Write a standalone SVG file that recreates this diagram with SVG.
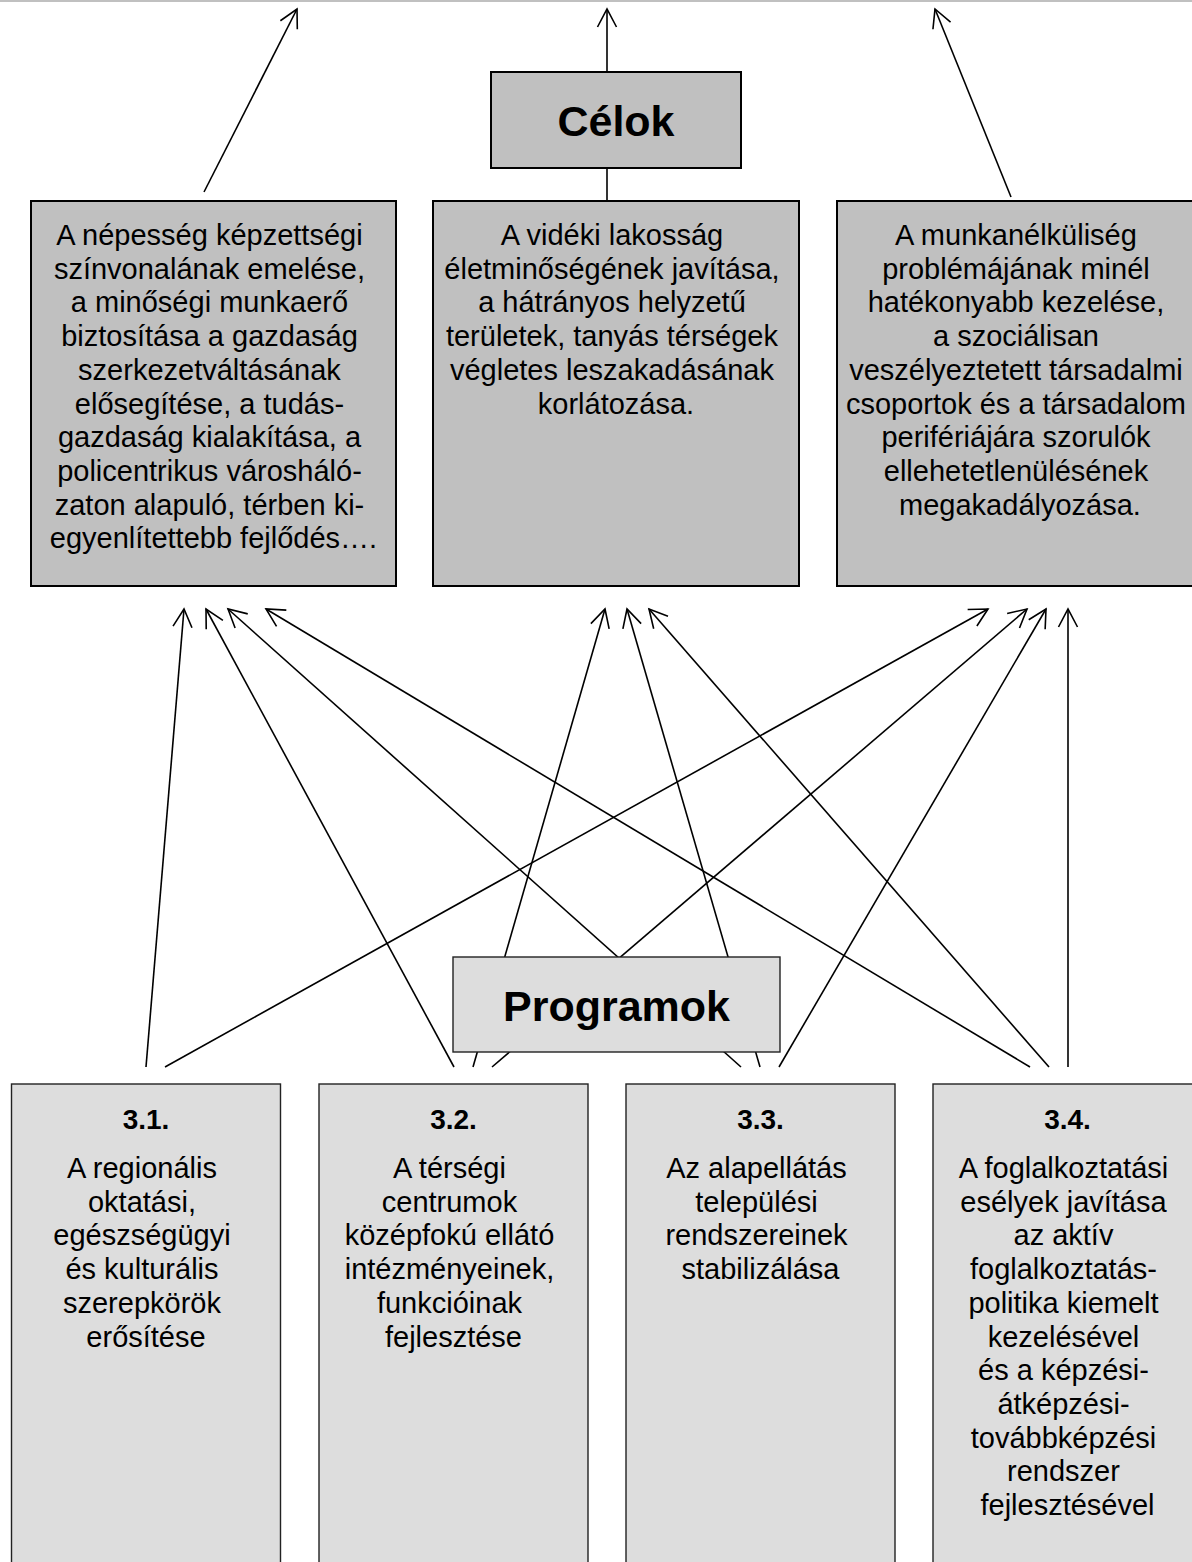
<svg xmlns="http://www.w3.org/2000/svg" width="1192" height="1562" viewBox="0 0 1192 1562">
<defs>
<marker id="ah" markerUnits="userSpaceOnUse" markerWidth="30" markerHeight="30" viewBox="-22 -15 30 30" refX="0" refY="0" orient="auto" overflow="visible">
<path d="M-18,-9.5 L0,0 L-18,9.5" fill="none" stroke="#000" stroke-width="1.6"/>
</marker>
</defs>
<style>
.c{stroke:#000;stroke-width:1.6;fill:none;marker-end:url(#ah)}
.top{fill:#c0c0c0;stroke:#000;stroke-width:2}
.bot{fill:#dddddd;stroke:#222;stroke-width:1.4}
.t{font-family:"Liberation Sans",Arial,sans-serif;font-size:29px;fill:#000;text-anchor:middle}
.h{font-family:"Liberation Sans",Arial,sans-serif;font-size:43px;font-weight:bold;fill:#000;text-anchor:middle}
.n{font-family:"Liberation Sans",Arial,sans-serif;font-size:28px;font-weight:bold;fill:#000;text-anchor:middle}
</style>
<rect x="0" y="0" width="1192" height="1562" fill="#fff"/>
<line x1="0" y1="1" x2="1192" y2="1" stroke="#c0c0c0" stroke-width="2"/>
<g id="connectors">
<line class="c" x1="204" y1="192" x2="297" y2="9"/>
<line class="c" x1="607" y1="200" x2="607" y2="9"/>
<line class="c" x1="1011" y1="197" x2="935" y2="9"/>
<line class="c" x1="146" y1="1067" x2="184" y2="609"/>
<line class="c" x1="165" y1="1067" x2="988" y2="609"/>
<line class="c" x1="454" y1="1067" x2="206" y2="609"/>
<line class="c" x1="473" y1="1067" x2="605" y2="609"/>
<line class="c" x1="492" y1="1067" x2="1027" y2="609"/>
<line class="c" x1="741" y1="1067" x2="228" y2="609"/>
<line class="c" x1="760" y1="1067" x2="627" y2="609"/>
<line class="c" x1="779" y1="1067" x2="1046" y2="609"/>
<line class="c" x1="1030" y1="1067" x2="266" y2="609"/>
<line class="c" x1="1049" y1="1067" x2="649" y2="609"/>
<line class="c" x1="1068" y1="1067" x2="1068" y2="609"/>
</g>
<g id="celok">
<rect class="top" x="491" y="72" width="250" height="96"/>
<text class="h" x="616" y="136">Célok</text>
</g>
<g id="cel1">
<rect class="top" x="31" y="201" width="365" height="385"/>
<text class="t" x="213.5" y="245">
<tspan x="213.5">A népesség képzettségi</tspan>
<tspan x="213.5" dy="33.7">színvonalának emelése,</tspan>
<tspan x="213.5" dy="33.7">a minőségi munkaerő</tspan>
<tspan x="213.5" dy="33.7">biztosítása a gazdaság</tspan>
<tspan x="213.5" dy="33.7">szerkezetváltásának</tspan>
<tspan x="213.5" dy="33.7">elősegítése, a tudás-</tspan>
<tspan x="213.5" dy="33.7">gazdaság kialakítása, a</tspan>
<tspan x="213.5" dy="33.7">policentrikus városháló-</tspan>
<tspan x="213.5" dy="33.7">zaton alapuló, térben ki-</tspan>
<tspan x="213.5" dy="33.7">egyenlítettebb fejlődés….</tspan>
</text>
</g>
<g id="cel2">
<rect class="top" x="433" y="201" width="366" height="385"/>
<text class="t" x="616" y="245">
<tspan x="616">A vidéki lakosság</tspan>
<tspan x="616" dy="33.7">életminőségének javítása,</tspan>
<tspan x="616" dy="33.7">a hátrányos helyzetű</tspan>
<tspan x="616" dy="33.7">területek, tanyás térségek</tspan>
<tspan x="616" dy="33.7">végletes leszakadásának</tspan>
<tspan x="616" dy="33.7">korlátozása.</tspan>
</text>
</g>
<g id="cel3">
<rect class="top" x="837" y="201" width="366" height="385"/>
<text class="t" x="1020" y="245">
<tspan x="1020">A munkanélküliség</tspan>
<tspan x="1020" dy="33.7">problémájának minél</tspan>
<tspan x="1020" dy="33.7">hatékonyabb kezelése,</tspan>
<tspan x="1020" dy="33.7">a szociálisan</tspan>
<tspan x="1020" dy="33.7">veszélyeztetett társadalmi</tspan>
<tspan x="1020" dy="33.7">csoportok és a társadalom</tspan>
<tspan x="1020" dy="33.7">perifériájára szorulók</tspan>
<tspan x="1020" dy="33.7">ellehetetlenülésének</tspan>
<tspan x="1020" dy="33.7">megakadályozása.</tspan>
</text>
</g>
<g id="programok">
<rect class="bot" x="453" y="957" width="327" height="95" stroke="#000" stroke-width="1.6"/>
<text class="h" x="616.5" y="1021">Programok</text>
</g>
<g id="p31">
<rect class="bot" x="11.5" y="1084" width="269" height="490"/>
<text class="n" x="146" y="1129">3.1.</text>
<text class="t" x="146" y="1178">
<tspan x="146">A regionális</tspan>
<tspan x="146" dy="33.7">oktatási,</tspan>
<tspan x="146" dy="33.7">egészségügyi</tspan>
<tspan x="146" dy="33.7">és kulturális</tspan>
<tspan x="146" dy="33.7">szerepkörök</tspan>
<tspan x="146" dy="33.7">erősítése</tspan>
</text>
</g>
<g id="p32">
<rect class="bot" x="319" y="1084" width="269" height="490"/>
<text class="n" x="453.5" y="1129">3.2.</text>
<text class="t" x="453.5" y="1178">
<tspan x="453.5">A térségi</tspan>
<tspan x="453.5" dy="33.7">centrumok</tspan>
<tspan x="453.5" dy="33.7">középfokú ellátó</tspan>
<tspan x="453.5" dy="33.7">intézményeinek,</tspan>
<tspan x="453.5" dy="33.7">funkcióinak</tspan>
<tspan x="453.5" dy="33.7">fejlesztése</tspan>
</text>
</g>
<g id="p33">
<rect class="bot" x="626" y="1084" width="269" height="490"/>
<text class="n" x="760.5" y="1129">3.3.</text>
<text class="t" x="760.5" y="1178">
<tspan x="760.5">Az alapellátás</tspan>
<tspan x="760.5" dy="33.7">települési</tspan>
<tspan x="760.5" dy="33.7">rendszereinek</tspan>
<tspan x="760.5" dy="33.7">stabilizálása</tspan>
</text>
</g>
<g id="p34">
<rect class="bot" x="933" y="1084" width="269" height="490"/>
<text class="n" x="1067.5" y="1129">3.4.</text>
<text class="t" x="1067.5" y="1178">
<tspan x="1067.5">A foglalkoztatási</tspan>
<tspan x="1067.5" dy="33.7">esélyek javítása</tspan>
<tspan x="1067.5" dy="33.7">az aktív</tspan>
<tspan x="1067.5" dy="33.7">foglalkoztatás-</tspan>
<tspan x="1067.5" dy="33.7">politika kiemelt</tspan>
<tspan x="1067.5" dy="33.7">kezelésével</tspan>
<tspan x="1067.5" dy="33.7">és a képzési-</tspan>
<tspan x="1067.5" dy="33.7">átképzési-</tspan>
<tspan x="1067.5" dy="33.7">továbbképzési</tspan>
<tspan x="1067.5" dy="33.7">rendszer</tspan>
<tspan x="1067.5" dy="33.7">fejlesztésével</tspan>
</text>
</g>
</svg>
